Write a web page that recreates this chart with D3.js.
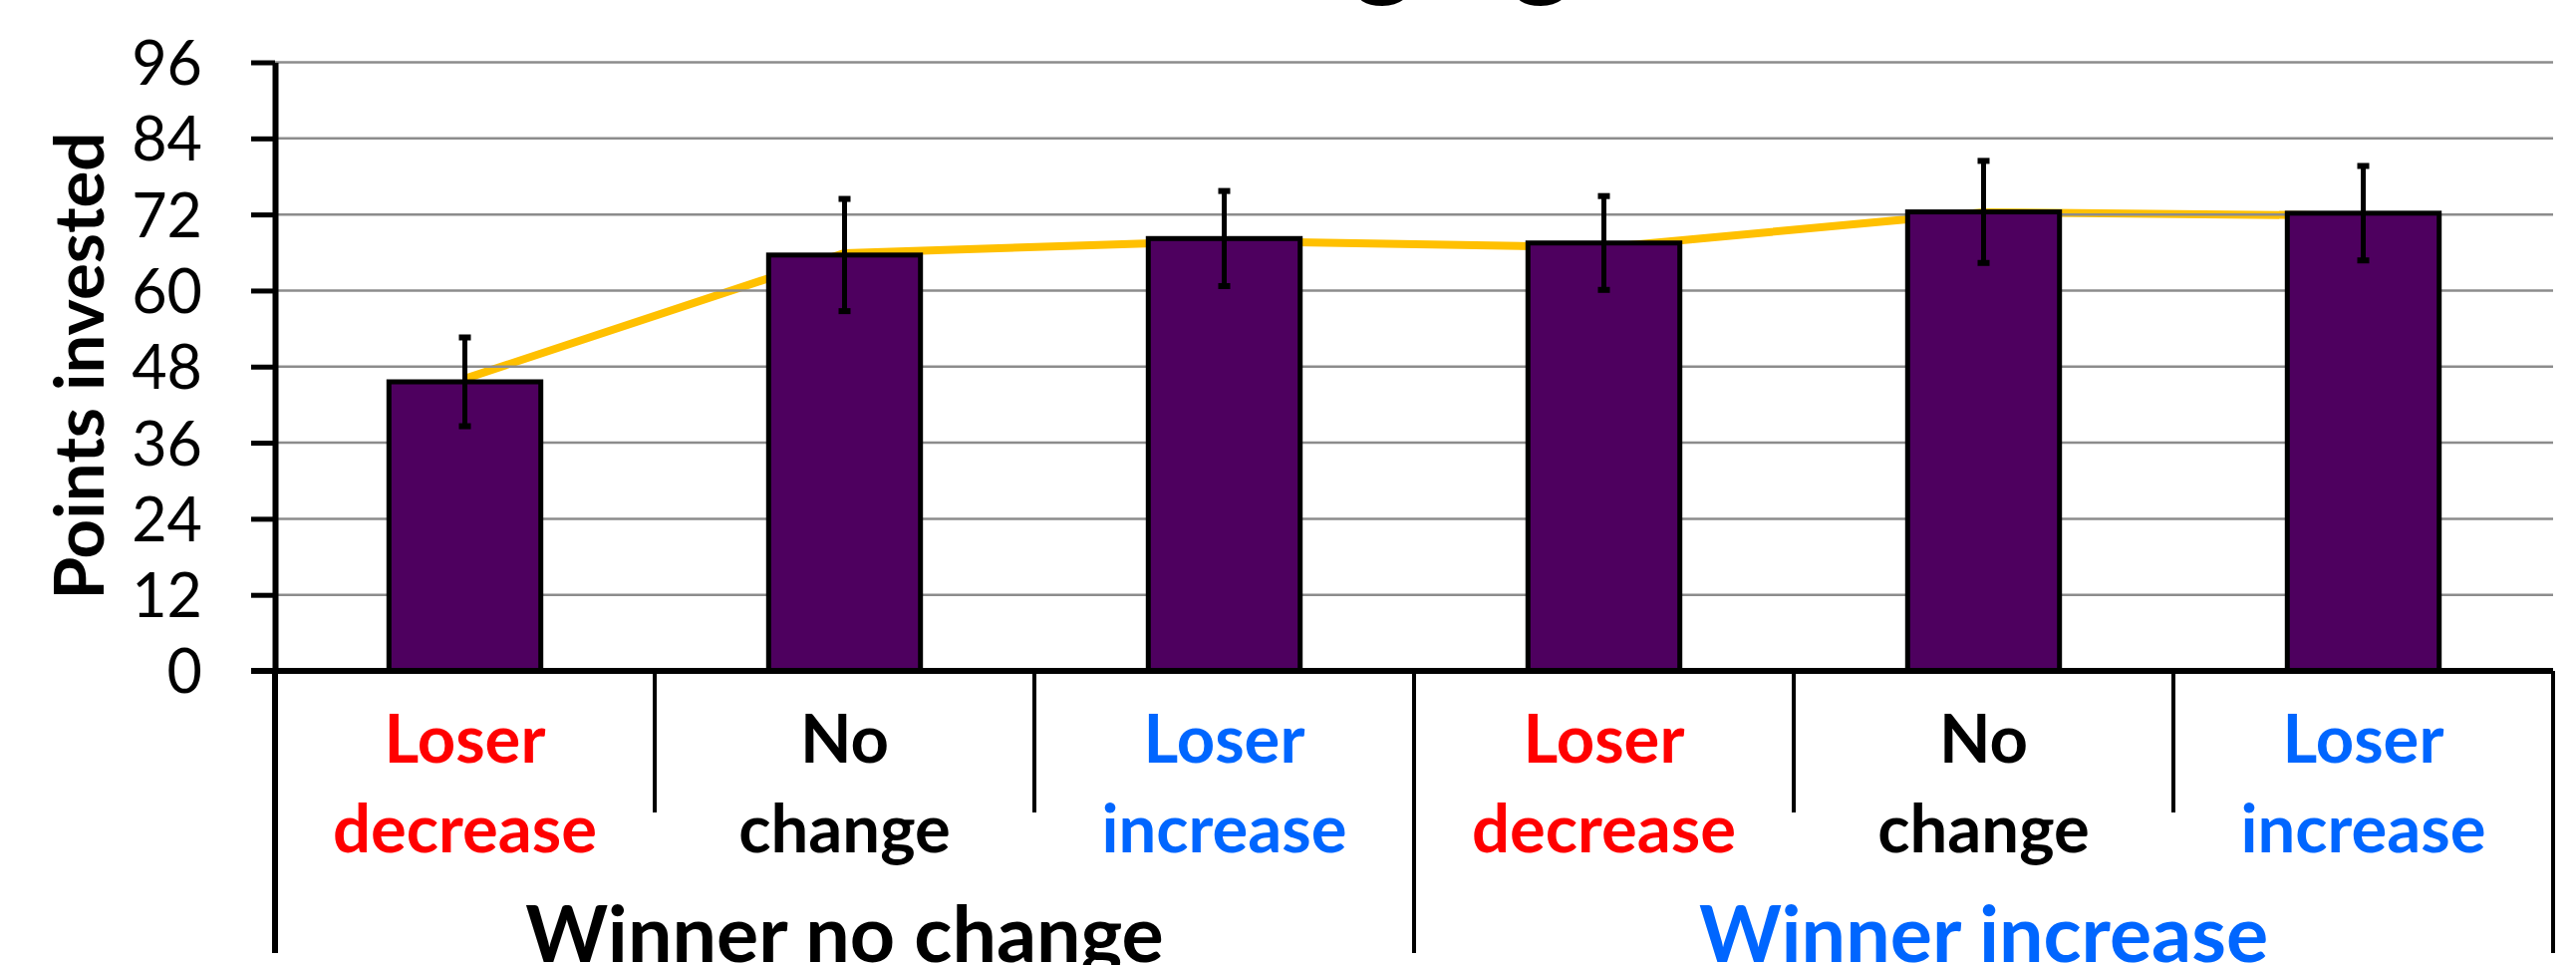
<!DOCTYPE html>
<html>
<head>
<meta charset="utf-8">
<script src="https://cdn.jsdelivr.net/npm/d3@7"></script>
<style>
  html, body { margin: 0; padding: 0; background: #ffffff; }
  svg { display: block; }
</style>
</head>
<body>
<svg id="chart" width="2585" height="968"></svg>
<script>
// ---------- data ----------
const titleText = "Changing";
const groups = ["Winner no change", "Winner increase"];
const groupColors = ["#000000", "#0066FF"];
const categoryLines = [
  ["Loser", "decrease"], ["No", "change"], ["Loser", "increase"],
  ["Loser", "decrease"], ["No", "change"], ["Loser", "increase"]
];
const categoryGroup = [0, 0, 0, 1, 1, 1];
const categoryColors = ["#FF0000", "#000000", "#0066FF", "#FF0000", "#000000", "#0066FF"];
const barValues = [45.6, 65.6, 68.2, 67.5, 72.4, 72.2];
const errorValues = [7.0, 8.85, 7.5, 7.4, 8.05, 7.45];
const lineValues = [46.1, 65.9, 67.8, 66.8, 72.35, 71.8];
const yTicks = [0, 12, 24, 36, 48, 60, 72, 84, 96];
const yLabel = "Points invested";

(function () {
// ---------- layout ----------
const svg = d3.select("#chart");
const pLeft = 276, pRight = 2562, pTop = 62.5, pBottom = 673;
const idx = d3.range(barValues.length);

const x = d3.scaleBand().domain(idx).range([pLeft, pRight]).padding(0);
const y = d3.scaleLinear().domain([0, 96]).range([pBottom, pTop]);
const barW = x.bandwidth() * 0.4;
const cx = i => x(i) + x.bandwidth() / 2;

// yellow line (behind gridlines and bars)
svg.append("path")
  .datum(lineValues)
  .attr("fill", "none")
  .attr("stroke", "#FFC000")
  .attr("stroke-width", 8)
  .attr("stroke-linejoin", "round")
  .attr("d", d3.line().x((d, i) => cx(i)).y(d => y(d)));

// gridlines
svg.append("g")
  .selectAll("line")
  .data(yTicks.filter(t => t > 0))
  .join("line")
  .attr("x1", pLeft).attr("x2", pRight)
  .attr("y1", d => y(d)).attr("y2", d => y(d))
  .attr("stroke", "#8C8C8C")
  .attr("stroke-width", 2.5);

// bars
svg.append("g")
  .selectAll("rect")
  .data(barValues)
  .join("rect")
  .attr("x", (d, i) => cx(i) - barW / 2)
  .attr("width", barW)
  .attr("y", d => y(d))
  .attr("height", d => y(0) - y(d))
  .attr("fill", "#4E005F")
  .attr("stroke", "#000000")
  .attr("stroke-width", 5);

// error bars
const eg = svg.append("g");
idx.forEach(i => {
  const hi = y(barValues[i] + errorValues[i]);
  const lo = y(barValues[i] - errorValues[i]);
  eg.append("line")
    .attr("x1", cx(i)).attr("x2", cx(i))
    .attr("y1", hi).attr("y2", lo)
    .attr("stroke", "#000").attr("stroke-width", 5);
  [hi, lo].forEach(v => {
    eg.append("rect")
      .attr("x", cx(i) - 6).attr("y", v - 3)
      .attr("width", 12).attr("height", 6)
      .attr("fill", "#000");
  });
});

// y axis
const yAxis = d3.axisLeft(y).tickValues(yTicks).tickSize(24).tickSizeOuter(0).tickPadding(49);
const ya = svg.append("g").attr("transform", `translate(${pLeft},0)`).call(yAxis);
ya.select(".domain").attr("stroke", "#000").attr("stroke-width", 6);
ya.selectAll(".tick line").attr("stroke", "#000").attr("stroke-width", 5);
ya.selectAll(".tick text")
  .attr("font-family", "Lato, 'Open Sans', sans-serif")
  .attr("font-size", 61)
  .attr("fill", "#000")
  .attr("dy", "0.36em");

// x axis baseline
svg.append("line")
  .attr("x1", pLeft - 24).attr("x2", pRight)
  .attr("y1", y(0)).attr("y2", y(0))
  .attr("stroke", "#000").attr("stroke-width", 6);

// separators below axis
const sep = svg.append("g");
d3.range(barValues.length + 1).forEach(k => {
  const xx = k < barValues.length ? x(k) : pRight;
  const isLong = k % 3 === 0;
  sep.append("line")
    .attr("x1", xx).attr("x2", xx)
    .attr("y1", y(0)).attr("y2", isLong ? 956 : 815)
    .attr("stroke", "#000").attr("stroke-width", k === 0 ? 6 : 4);
});

// category labels
const cl = svg.append("g")
  .attr("font-family", "Lato, 'Open Sans', sans-serif")
  .attr("font-weight", "bold")
  .attr("font-size", 67)
  .attr("text-anchor", "middle");
idx.forEach(i => {
  categoryLines[i].forEach((t, j) => {
    cl.append("text")
      .attr("x", cx(i))
      .attr("y", 765 + j * 90)
      .attr("fill", categoryColors[i])
      .text(t);
  });
});

// group labels
groups.forEach((g, gi) => {
  const members = idx.filter(i => categoryGroup[i] === gi);
  const gx0 = x(members[0]);
  const gx1 = x(members[members.length - 1]) + x.bandwidth();
  svg.append("text")
    .attr("x", (gx0 + gx1) / 2)
    .attr("y", 965)
    .attr("text-anchor", "middle")
    .attr("font-family", "Lato, 'Open Sans', sans-serif")
    .attr("font-weight", "bold")
    .attr("font-size", 79)
    .attr("fill", groupColors[gi])
    .text(g);
});

// y axis title
svg.append("text")
  .attr("transform", "translate(104,367) rotate(-90)")
  .attr("text-anchor", "middle")
  .attr("font-family", "Lato, 'Open Sans', sans-serif")
  .attr("font-weight", "bold")
  .attr("font-size", 69)
  .attr("fill", "#000")
  .text(yLabel);

// chart title (cut off at the top edge, only descenders visible)
const title = svg.append("text")
  .attr("font-family", "Lato, 'Open Sans', sans-serif")
  .attr("font-size", 126)
  .attr("fill", "#000")
  .attr("x", 0)
  .attr("y", -16)
  .text(titleText);
const tn = title.node();
const gLast = titleText.lastIndexOf("g");
const gPrev = titleText.lastIndexOf("g", gLast - 1);
let e1 = tn.getExtentOfChar(gLast), e0 = tn.getExtentOfChar(gPrev);
const dd = (e1.x + e1.width / 2) - (e0.x + e0.width / 2);
if (dd > 0) {
  title.attr("font-size", 126 * 159 / dd);
  e1 = tn.getExtentOfChar(gLast);
}
title.attr("x", 1547 - (e1.x + e1.width / 2));
})();
</script>
</body>
</html>
